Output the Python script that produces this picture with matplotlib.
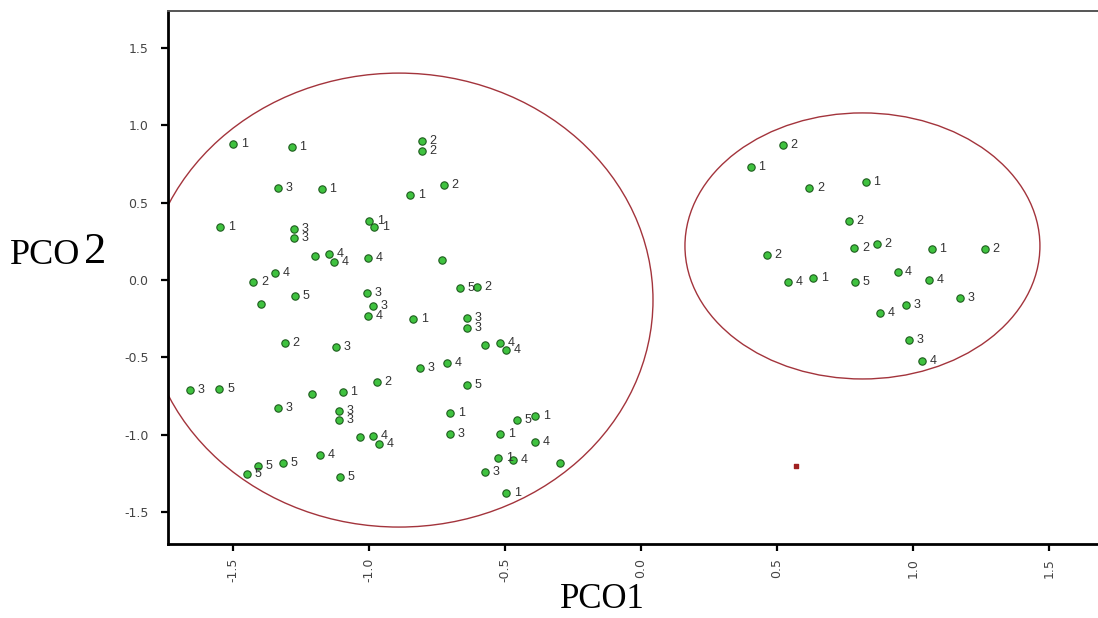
import numpy as np
import matplotlib.pyplot as plt
from matplotlib.patches import Ellipse

# PCO scores, with group label per sample
pco1 = [
    -1.499, -1.284, -0.806, -0.806, -1.336, -1.174, -0.849, -0.724,
    -1.548, -1.275, -1.275, -0.999, -0.980, -1.200, -1.147, -1.128,
    -1.005, -0.733, -1.346, -1.425, -1.272, -1.397, -1.008, -0.984,
    -1.005, -0.837, -0.665, -0.603, -0.641, -0.641, -0.574, -0.518,
    -0.496, -0.813, -0.714, -0.641, -0.702, -0.702, -0.518, -0.457,
    -0.390, -0.390, -0.525, -0.469, -0.298, -0.574, -0.496, -1.309,
    -1.121, -1.658, -1.550, -1.211, -1.097, -0.972, -1.336, -1.109,
    -1.109, -1.033, -0.984, -0.962, -1.180, -1.315, -1.407, -1.450,
    -1.107,
    0.521, 0.404, 0.619, 0.826, 0.765, 0.784, 0.866, 1.069,
    1.265, 0.462, 0.542, 0.634, 0.787, 0.943, 1.060, 1.173,
    0.974, 0.879, 0.985, 1.032,
]
pco2 = [
    0.879, 0.858, 0.896, 0.834, 0.597, 0.588, 0.549, 0.614,
    0.340, 0.330, 0.270, 0.383, 0.345, 0.157, 0.168, 0.114,
    0.140, 0.130, 0.043, -0.011, -0.101, -0.157, -0.082, -0.168,
    -0.233, -0.252, -0.050, -0.045, -0.248, -0.312, -0.420, -0.405,
    -0.452, -0.571, -0.535, -0.679, -0.862, -0.998, -0.998, -0.905,
    -0.879, -1.045, -1.149, -1.163, -1.185, -1.239, -1.379, -0.409,
    -0.431, -0.711, -0.707, -0.737, -0.726, -0.661, -0.829, -0.845,
    -0.905, -1.017, -1.008, -1.060, -1.131, -1.185, -1.200, -1.254,
    -1.271,
    0.873, 0.728, 0.593, 0.636, 0.383, 0.205, 0.233, 0.198,
    0.198, 0.162, -0.015, 0.011, -0.015, 0.050, 0.000, -0.118,
    -0.162, -0.215, -0.388, -0.521,
]
groups = [
    "1", "1", "2", "2", "3", "1", "1", "2",
    "1", "3", "3", "1", "1", "", "4", "4",
    "4", "", "4", "2", "5", "", "3", "3",
    "4", "1", "5", "2", "3", "3", "", "4",
    "4", "3", "4", "5", "1", "3", "1", "5",
    "1", "4", "1", "4", "", "3", "1", "2",
    "3", "3", "5", "", "1", "2", "3", "3",
    "3", "", "4", "4", "4", "5", "5", "5",
    "5",
    "2", "1", "2", "1", "2", "2", "2", "1",
    "2", "2", "4", "1", "5", "4", "4", "3",
    "3", "4", "3", "4",
]

# cluster outlines: centre x, centre y, width, height
clusters_x = [-0.89, 0.814]
clusters_y = [-0.13, 0.22]
clusters_w = [1.868, 1.305]
clusters_h = [2.935, 1.72]

# stray red speck in the original
speck_x = [0.569]
speck_y = [-1.20]

fig = plt.figure(figsize=(10.98, 6.18), dpi=100)
ax = fig.add_axes([168 / 1098, 74 / 618, 930 / 1098, 533 / 618])

for cx, cy, w, h in zip(clusters_x, clusters_y, clusters_w, clusters_h):
    ax.add_patch(Ellipse((cx, cy), w, h, facecolor='none',
                         edgecolor='#a3343c', linewidth=1.0, zorder=1))

ax.scatter(pco1, pco2, s=28, c='#3fc23f', edgecolors='#1d5c1d',
           linewidths=0.8, zorder=3)
for x, y, g in zip(pco1, pco2, groups):
    if g:
        ax.annotate(g, (x, y), xytext=(5.5, 0), textcoords='offset points',
                    va='center', ha='left', fontsize=9, color='#333333',
                    family='Liberation Sans', zorder=4)

ax.scatter(speck_x, speck_y, s=6, marker='s', c='#a02020', zorder=2)

ax.set_xlim(-1.739, 1.680)
ax.set_ylim(-1.707, 1.739)

ax.set_xticks([-1.5, -1.0, -0.5, 0.0, 0.5, 1.0, 1.5])
ax.set_xticklabels([f'{t:.1f}' for t in ax.get_xticks()], rotation=90)
ax.set_yticks([-1.5, -1.0, -0.5, 0.0, 0.5, 1.0, 1.5])
ax.set_yticklabels([f'{t:.1f}' for t in ax.get_yticks()])
ax.tick_params(axis='both', direction='out', length=5, width=1.6,
               labelsize=9, labelcolor='#444444')
ax.tick_params(axis='y', pad=9)
ax.tick_params(axis='x', pad=5)
for lbl in ax.get_xticklabels() + ax.get_yticklabels():
    lbl.set_family('DejaVu Sans')

ax.spines['left'].set_linewidth(2.0)
ax.spines['bottom'].set_linewidth(2.0)
ax.spines['top'].set_linewidth(1.4)
ax.spines['top'].set_color('#555555')
ax.spines['right'].set_visible(False)

# axis titles, serif and large as in the original
fig.text(10 / 1098, 1 - 255 / 618, 'PCO', family='Liberation Serif',
         fontsize=26, va='center', ha='left')
fig.text(84 / 1098, 1 - 252 / 618, '2', family='Liberation Serif',
         fontsize=32, va='center', ha='left')
fig.text(602 / 1098, 1 - 600 / 618, 'PCO1', family='Liberation Serif',
         fontsize=25, va='center', ha='center')

fig.savefig('out.png', dpi=100)
